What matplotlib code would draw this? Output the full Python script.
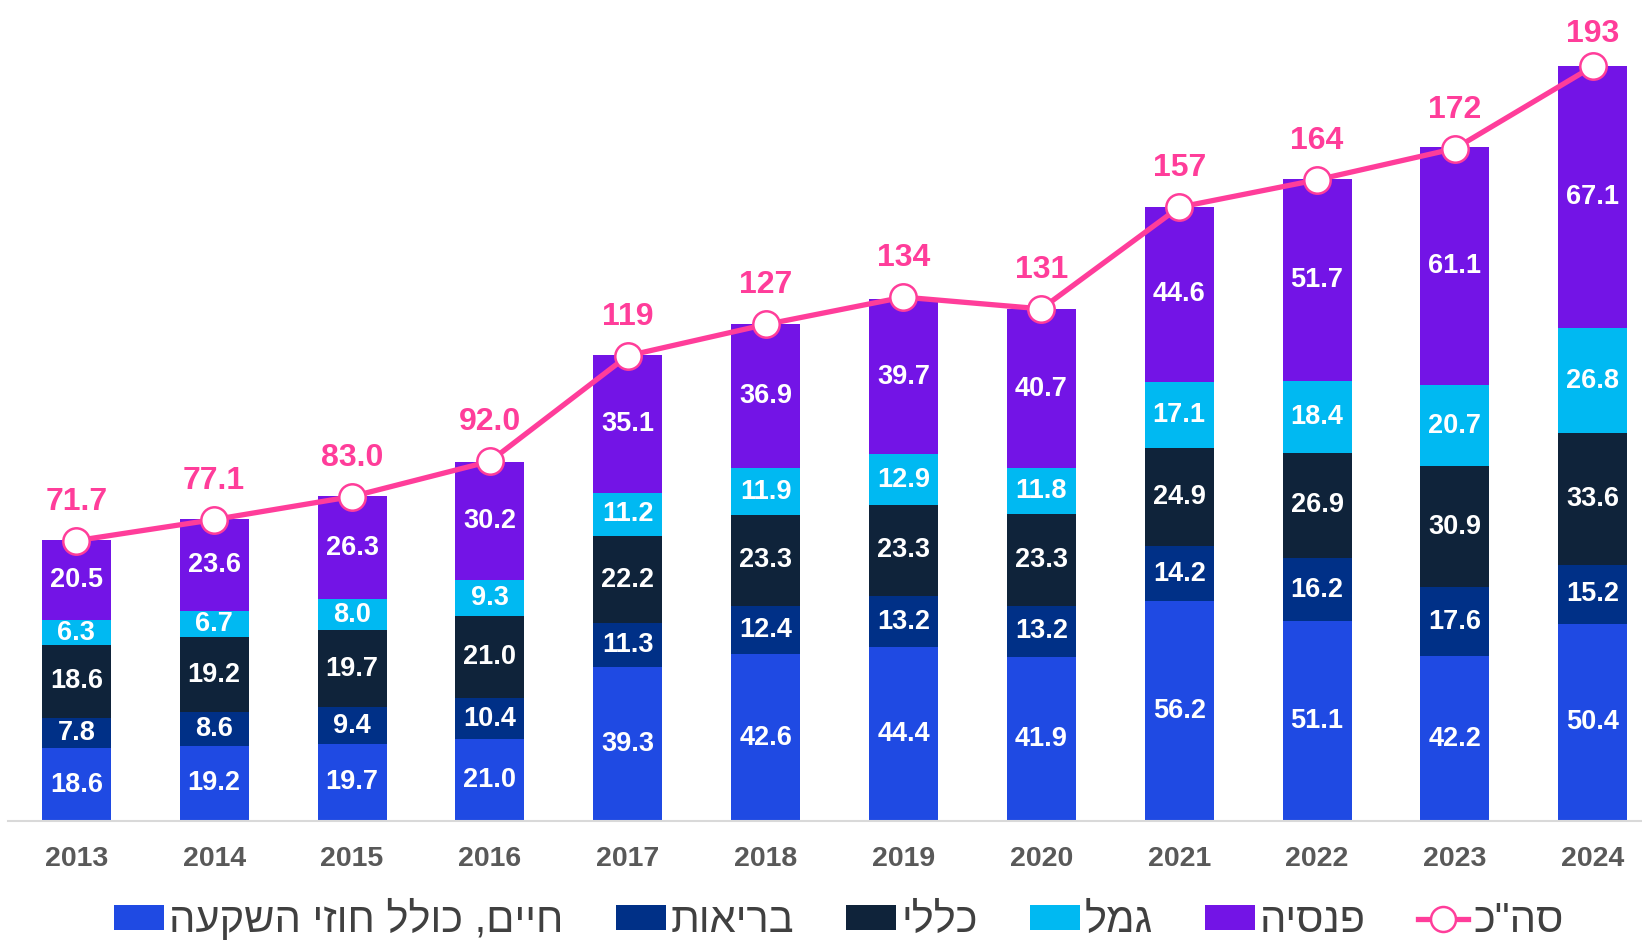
"""
Stacked bars by segment with total line, 2013-2024
"""

import matplotlib
matplotlib.use('Agg')
import matplotlib.pyplot as plt
from matplotlib.patches import Patch
from matplotlib.lines import Line2D

years = [2013, 2014, 2015, 2016, 2017, 2018, 2019, 2020, 2021, 2022, 2023, 2024]
life = [18.6, 19.2, 19.7, 21.0, 39.3, 42.6, 44.4, 41.9, 56.2, 51.1, 42.2, 50.4]
health = [7.8, 8.6, 9.4, 10.4, 11.3, 12.4, 13.2, 13.2, 14.2, 16.2, 17.6, 15.2]
general = [18.6, 19.2, 19.7, 21.0, 22.2, 23.3, 23.3, 23.3, 24.9, 26.9, 30.9, 33.6]
gemel = [6.3, 6.7, 8.0, 9.3, 11.2, 11.9, 12.9, 11.8, 17.1, 18.4, 20.7, 26.8]
pension = [20.5, 23.6, 26.3, 30.2, 35.1, 36.9, 39.7, 40.7, 44.6, 51.7, 61.1, 67.1]
totals = [71.7, 77.1, 83.0, 92.0, 119, 127, 134, 131, 157, 164, 172, 193]

names = ['חיים, כולל חוזי השקעה', 'בריאות', 'כללי', 'גמל', 'פנסיה']
total_name = 'סה"כ'
colors = ['#1f4ae3', '#003087', '#0f233a', '#00b9f2', '#7314e6']
pink = '#ff3d9a'


def rtl(s):
	# matplotlib has no bidi support, so flip hebrew by hand
	return s[::-1]


def main():
	plt.rcParams['font.family'] = ['Liberation Sans Narrow', 'Liberation Sans', 'DejaVu Sans']

	fig = plt.figure(figsize=(16.42, 9.44), dpi=100)
	ax = fig.add_axes([0.005, 0.1303, 0.995, 0.8697])

	series = [life, health, general, gemel, pension]
	bottom = [0.0] * len(years)
	for vals, c in zip(series, colors):
		ax.bar(years, vals, width=0.5, bottom=bottom, color=c, zorder=2)
		for x, b, v in zip(years, bottom, vals):
			ax.text(x, b + v / 2, f'{v:.1f}', ha='center', va='center',
					color='white', fontsize=19.5, fontweight='bold', zorder=3)
		bottom = [b + v for b, v in zip(bottom, vals)]

	ax.set_xlim(2012.506, 2024.357)
	ax.set_ylim(0, 210)

	# total line
	ax.plot(years, totals, color=pink, lw=3.8, marker='o', markersize=19,
			markerfacecolor='white', markeredgecolor=pink, markeredgewidth=1.8,
			zorder=4, clip_on=False)
	H = fig.bbox.height
	for x, t in zip(years, totals):
		lab = f'{t:.1f}' if t < 100 else f'{t:.0f}'
		my = ax.transData.transform((x, t))[1]
		# baseline ~31px above the marker, but keep the top label inside the figure
		off_px = min(31, (H - 42) - my)
		ax.annotate(lab, (x, t), xytext=(0, off_px * 72 / fig.dpi), textcoords='offset points',
					ha='center', va='baseline', color=pink, fontsize=23,
					fontweight='bold', zorder=5)

	for s in ['top', 'right', 'left']:
		ax.spines[s].set_visible(False)
	ax.spines['bottom'].set_color('#d9d9d9')
	ax.spines['bottom'].set_linewidth(1.5)
	ax.set_yticks([])
	ax.set_xticks(years)
	ax.set_xticklabels([str(y) for y in years], fontsize=20.5, fontweight='bold', color='#595959')
	ax.tick_params(axis='x', length=0, pad=18)

	# legend
	handles = [Patch(facecolor=c) for c in colors]
	handles.append(Line2D([0], [0], color=pink, lw=3.8, marker='o', markersize=18,
						  markerfacecolor='white', markeredgecolor=pink, markeredgewidth=1.8))
	labels = [rtl(n) for n in names] + [rtl(total_name)]
	fig.legend(handles, labels, loc='center', bbox_to_anchor=(0.511, 0.025), ncol=6,
			   frameon=False, fontsize=30, handlelength=1.2, handleheight=0.55,
			   handletextpad=0.12, columnspacing=1.25, labelcolor='#404040')

	fig.savefig('out.png', dpi=100)


if __name__ == '__main__':
	main()
